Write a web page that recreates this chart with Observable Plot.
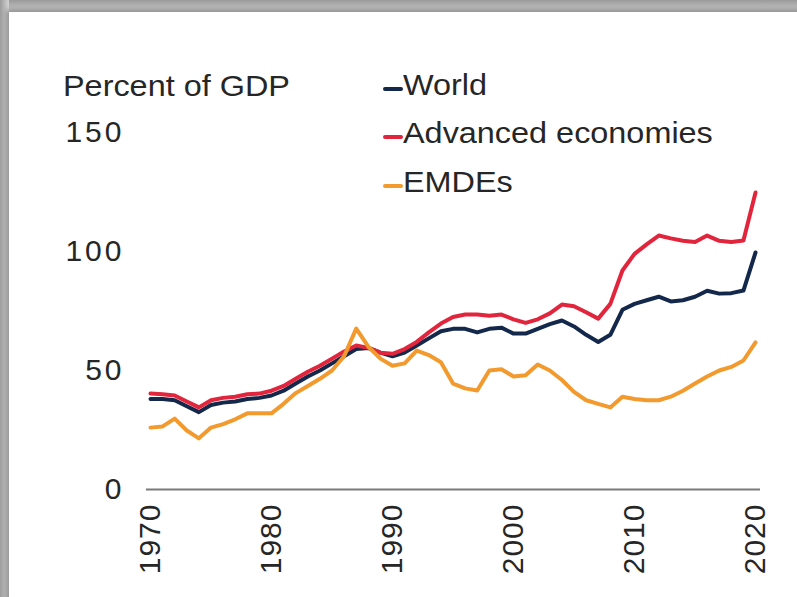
<!DOCTYPE html>
<html>
<head>
<meta charset="utf-8">
<script src="https://cdn.jsdelivr.net/npm/d3@7"></script>
<script src="https://cdn.jsdelivr.net/npm/@observablehq/plot@0.6"></script>
<style>
  html, body { margin: 0; padding: 0; background: #fff; }
  #wrap { position: relative; width: 797px; height: 597px; overflow: hidden;
          background: linear-gradient(to bottom, #9a9a9a 0px, #cfcfcf 12px, #d6d6d6 100%); }
  #card { position: absolute; left: 9px; top: 12px; width: 800px; height: 600px; background: #fff;
          box-shadow: -2px -2px 5px rgba(0,0,0,0.35); }
  #leftband { position: absolute; left: 0; top: 0; width: 9px; height: 597px;
          background: linear-gradient(to right, #9c9c9c, #d4d4d4); }
  #chart { position: absolute; left: 0; top: 0; }
  #chart g[aria-label="y-axis tick label"] text { letter-spacing: 3px; }
  #chart g[aria-label="x-axis tick label"] text { letter-spacing: 1px; }
  .txt { position: absolute; font-family: "Liberation Sans", Arial, sans-serif; font-size: 30px;
         line-height: 30px; color: #262626; white-space: nowrap; transform: scaleX(1.08); transform-origin: left center; }
  .key { position: absolute; width: 20px; height: 4px; border-radius: 2px; }
</style>
</head>
<body>
<div id="wrap">
  <div id="leftband"></div>
  <div id="card"></div>
  <div id="chart"></div>
  <div class="txt" style="left:63px; top:71px;">Percent of GDP</div>
  <div id="legend"></div>
</div>
<script>
const years = d3.range(1970, 2021);
const seriesNames = ["World", "Advanced economies", "EMDEs"];
const seriesColors = ["#14284b", "#e1253c", "#f39a2e"];
const world = [38, 38, 37.5, 35, 32.5, 35.5, 36.5, 37, 38, 38.5,
  39.5, 41.5, 44.5, 47.5, 50, 53, 56, 59, 59.5, 57.5,
  56, 57.5, 60.5, 63.5, 66.5, 67.5, 67.5, 66, 67.5, 68,
  65.5, 65.5, 67.5, 69.5, 71, 68.5, 65, 62, 65, 75.5,
  78, 79.5, 81, 79, 79.5, 81, 83.5, 82.3, 82.5, 83.6,
  99.6];
const advanced = [40.3, 40, 39.5, 37, 34.5, 37.5, 38.5, 39, 40, 40.3,
  41.5, 43.5, 46.5, 49.5, 52, 55, 58, 60.5, 59.5, 57.5,
  57, 59, 62, 66, 69.7, 72.5, 73.5, 73.5, 73, 73.5,
  71.5, 70, 71.5, 74, 77.7, 77, 74.5, 71.8, 78, 92,
  99, 103, 106.7, 105.5, 104.5, 104, 106.7, 104.5, 104, 104.6,
  124.8];
const emdes = [26, 26.5, 29.8, 24.8, 21.5, 26, 27.5, 29.5, 32, 32,
  32, 36, 40.5, 43.5, 46.5, 50, 56, 67.6, 60, 55,
  52, 53, 58.4, 56.5, 53.5, 44.5, 42.5, 41.6, 50, 50.5,
  47.5, 48, 52.5, 50, 46, 41, 37.5, 36, 34.5, 39,
  38, 37.5, 37.5, 39, 41.5, 44.5, 47.5, 50, 51.5, 54.2,
  61.8];
const xTicks = [1970, 1980, 1990, 2000, 2010, 2020];
const yTicks = [0, 50, 100, 150];

const seriesValues = [world, advanced, emdes];
const data = seriesNames.flatMap((s, i) =>
  years.map((yr, j) => ({ year: yr, value: seriesValues[i][j], series: s })));

const chart = Plot.plot({
  width: 797,
  height: 597,
  marginLeft: 146,
  marginRight: 37,
  marginTop: 132,
  marginBottom: 108,
  style: { fontFamily: "'Liberation Sans', Arial, sans-serif", fontSize: "30px", color: "#262626", background: "transparent", overflow: "visible" },
  x: { domain: [1969.67, 2020.41], ticks: xTicks, tickFormat: d => String(d), tickRotate: -90, tickSize: 0, tickPadding: 14, label: null },
  y: { domain: [0, 150], ticks: yTicks, tickSize: 0, tickPadding: 22, label: null },
  color: { domain: seriesNames, range: seriesColors },
  marks: [
    Plot.ruleY([0], { stroke: "#7a7a7a", strokeWidth: 2 }),
    Plot.lineY(data, { x: "year", y: "value", stroke: "series", z: "series", strokeWidth: 4, strokeLinejoin: "round", strokeLinecap: "round" })
  ]
});
document.getElementById("chart").appendChild(chart);

const legend = document.getElementById("legend");
const legendTops = [70, 118, 167];
seriesNames.forEach((s, i) => {
  const key = document.createElement("div");
  key.className = "key";
  key.style.left = "383px";
  key.style.top = (legendTops[i] + 17) + "px";
  key.style.background = seriesColors[i];
  legend.appendChild(key);
  const t = document.createElement("div");
  t.className = "txt";
  t.style.left = "403px";
  t.style.top = legendTops[i] + "px";
  t.textContent = s;
  legend.appendChild(t);
});
</script>
</body>
</html>
